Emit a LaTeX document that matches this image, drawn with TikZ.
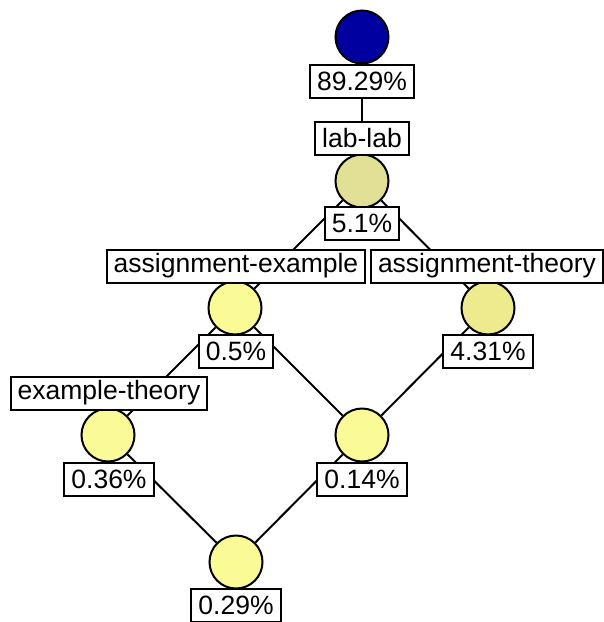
\documentclass[tikz,border=0pt]{standalone}
\usepackage{fontspec}
\setmainfont{Liberation Sans}
\definecolor{topblue}{RGB}{0,0,160}
\definecolor{khaki}{RGB}{225,224,150}
\definecolor{paleyellow}{RGB}{238,235,142}
\definecolor{lightyellow}{RGB}{250,250,150}
\begin{document}
\begin{tikzpicture}[x=1pt,y=-1pt,
    conc/.style={circle,draw,line width=2pt,minimum size=53pt,inner sep=0pt},
    lbl/.style={draw,fill=white,line width=2pt,inner xsep=7pt,inner ysep=0pt,minimum height=33pt,font=\fontsize{26.5}{28}\selectfont},
    link/.style={line width=2pt}]
    \useasboundingbox (0,0) rectangle (604,622);
    % concepts
    \node[conc,fill=topblue] (top) at (362,37) {};
    \node[conc,fill=khaki] (lablab) at (362,181) {};
    \node[conc,fill=lightyellow] (assex) at (235,308) {};
    \node[conc,fill=paleyellow] (assth) at (488,308) {};
    \node[conc,fill=lightyellow] (exth) at (108,435) {};
    \node[conc,fill=lightyellow] (mid) at (362,435) {};
    \node[conc,fill=lightyellow] (bot) at (236,562) {};
    % lattice edges
    \draw[link] (top) -- (lablab);
    \draw[link] (lablab) -- (assex);
    \draw[link] (lablab) -- (assth);
    \draw[link] (assex) -- (exth);
    \draw[link] (assex) -- (mid);
    \draw[link] (assth) -- (mid);
    \draw[link] (exth) -- (bot);
    \draw[link] (mid) -- (bot);
    % labels
    \node[lbl] (topsup) at (362,81) {89.29\%};
    \node[lbl] (lablabatt) at (362,138) {lab-lab};
    \node[lbl] (lablabsup) at (362,223) {5.1\%};
    \node[lbl] (assexatt) at (236,266) {assignment-example};
    \node[lbl] (assthatt) at (487,266) {assignment-theory};
    \node[lbl] (assexsup) at (236,351) {0.5\%};
    \node[lbl] (assthsup) at (488,351) {4.31\%};
    \node[lbl] (exthatt) at (109,393) {example-theory};
    \node[lbl] (exthsup) at (109,479) {0.36\%};
    \node[lbl] (midsup) at (362,479) {0.14\%};
    \node[lbl] (botsup) at (236,605) {0.29\%};
\end{tikzpicture}
\end{document}
